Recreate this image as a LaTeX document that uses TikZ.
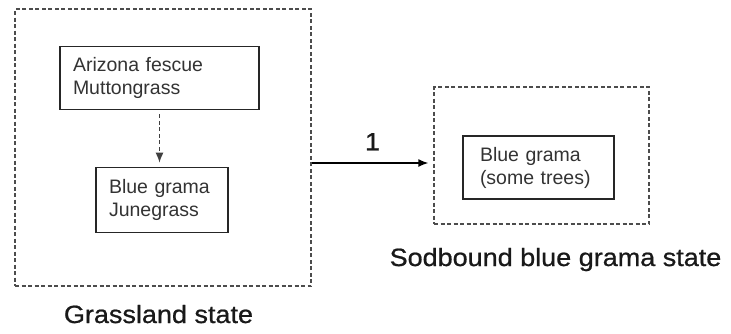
\documentclass[tikz,border=0pt]{standalone}
\usepackage{fontspec}
\setmainfont{Liberation Sans}
\newfontfamily\statefont[FakeStretch=1.08,FakeBold=0.8]{Liberation Sans}
\usetikzlibrary{arrows.meta,positioning}

\tikzset{
  statebox/.style={draw=black!70, dash pattern=on 4pt off 2.5pt, line width=1.4pt, inner sep=0pt},
  spbox/.style={draw=black!85, line width=1.6pt, align=left, text=black!80,
    font=\fontsize{19.5}{23}\selectfont, inner ysep=0pt},
  statelbl/.style={font=\statefont\fontsize{25}{30}\selectfont, anchor=base, inner sep=0pt, text=black!90}
}

\begin{document}
\begin{tikzpicture}[x=1pt,y=-1pt,>={Latex[length=10pt,width=8pt]}]
  \useasboundingbox (0,0) rectangle (731,333);
  % Grassland state
  \node[statebox, minimum width=296pt, minimum height=277pt] (grass) at (163,147.5) {};
  \node[spbox, text width=173pt, inner xsep=13pt, minimum height=63pt] (fescue) at (159.5,78) {Arizona fescue\\Muttongrass};
  \node[spbox, text width=106pt, inner xsep=13pt, minimum height=65pt] (grama) at (162,200) {Blue grama\\Junegrass};
  \draw[->, dash pattern=on 4pt off 2.5pt, black!75, line width=1.4pt, shorten <=4pt, shorten >=4pt]
    (fescue.south) -- (fescue.south |- grama.north);
  % Sodbound blue grama state
  \node[statebox, minimum width=215pt, minimum height=137pt] (sod) at (541.5,155.5) {};
  \node[spbox, text width=117pt, inner xsep=17pt, minimum height=63pt] (trees) at (538.5,167.5) {Blue grama\\(some trees)};
  % Transition
  \coordinate (ar) at (373,163);
  \draw[->, line width=1.4pt, shorten >=5pt] (grass.east |- ar) --
    node[above=12pt, statelbl, anchor=south] (one) {1} (sod.west |- ar);
  % State labels
  \node[statelbl] (glbl) at (158.5,323) {Grassland state};
  \node[statelbl] (slbl) at (555.5,266) {Sodbound blue grama state};
\end{tikzpicture}
\end{document}
